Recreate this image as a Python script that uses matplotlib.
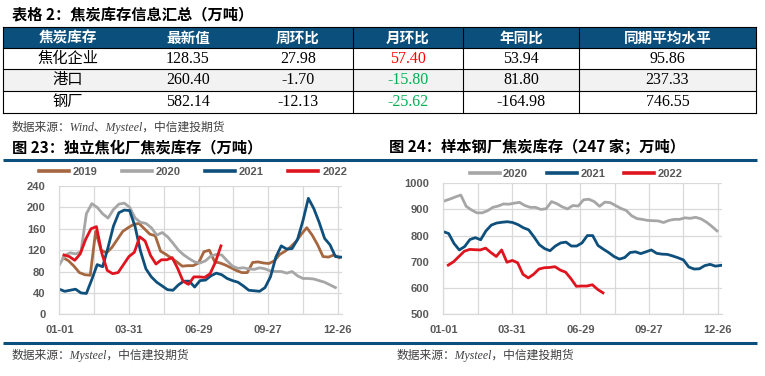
import matplotlib
matplotlib.use('Agg')
import matplotlib.pyplot as plt
from matplotlib.patches import Rectangle
import numpy as np

CJK = 'Noto Sans CJK SC'
plt.rcParams['font.family'] = [CJK, 'DejaVu Sans']

# ---------------- data ----------------
table_title = '表格 2：焦炭库存信息汇总（万吨）'
table_header = ['焦炭库存', '最新值', '周环比', '月环比', '年同比', '同期平均水平']
row_names = ['焦化企业', '港口', '钢厂']
latest = [128.35, 260.40, 582.14]
wow = [27.98, -1.70, -12.13]
mom = [57.40, -15.80, -25.62]
yoy = [53.94, 81.80, -164.98]
avg = [95.86, 237.33, 746.55]
source_top = '数据来源：Wind、Mysteel，中信建投期货'

title1 = '图 23：独立焦化厂焦炭库存（万吨）'
title2 = '图 24：样本钢厂焦炭库存（247 家；万吨）'
source_bottom = '数据来源：Mysteel，中信建投期货'
tick_labels = ['01-01', '03-31', '06-29', '09-27', '12-26']

# Fig 23 weekly values (first-week day of year given separately)
c_2019 = [106, 100, 90, 78, 74, 73, 155, 120, 115, 125, 140, 155, 162, 168, 170,
          160, 150, 147, 118, 112, 105, 98, 90, 91, 91, 96, 117, 120, 98, 96, 92,
          87, 82, 78, 78, 97, 98, 96, 95, 100, 112, 118, 126, 136, 150, 162, 148,
          130, 108, 107, 111, 106]
c_2020 = [92, 110, 115, 113, 117, 188, 207, 200, 188, 180, 196, 206, 208, 200, 180,
          172, 170, 162, 148, 153, 145, 133, 120, 111, 104, 98, 96, 100, 109, 112,
          111, 100, 90, 86, 87, 85, 84, 87, 85, 81, 80, 80, 77, 80, 72, 67, 67, 66,
          63, 60, 55, 50]
c_2021 = [47, 43, 45, 47, 40, 39, 65, 93, 89, 125, 165, 190, 195, 194, 164, 118, 85,
          70, 60, 53, 46, 45, 55, 62, 62, 51, 63, 64, 72, 77, 74, 67, 63, 60, 53, 45,
          44, 43, 50, 70, 107, 128, 122, 123, 140, 175, 217, 198, 172, 142, 130, 108,
          107]
c_2022 = [111, 108, 101, 113, 140, 160, 164, 114, 82, 76, 78, 93, 108, 116, 145, 137,
          110, 94, 102, 102, 106, 86, 62, 56, 70, 70, 69, 76, 98, 128]
start1 = {'2019': 5, '2020': 0, '2021': 0, '2022': 6}

# Fig 24 weekly values
s_2020 = [933, 940, 948, 955, 912, 898, 887, 887, 895, 908, 913, 921, 920, 924, 927,
          915, 908, 908, 900, 903, 930, 922, 910, 902, 915, 913, 937, 939, 930, 912,
          928, 926, 915, 904, 896, 876, 865, 862, 858, 857, 856, 850, 858, 862, 862,
          868, 866, 870, 864, 852, 836, 818]
s_2021 = [815, 808, 770, 745, 758, 785, 792, 784, 818, 840, 848, 851, 853, 850, 842,
          830, 822, 795, 765, 750, 742, 760, 772, 775, 760, 760, 772, 800, 800, 762,
          748, 735, 720, 710, 716, 735, 738, 731, 738, 745, 732, 729, 728, 722, 715,
          707, 680, 672, 673, 685, 690, 683, 686]
s_2022 = [687, 700, 720, 740, 747, 746, 745, 752, 735, 720, 745, 698, 705, 696, 652,
          638, 652, 672, 677, 678, 681, 668, 660, 635, 606, 607, 607, 612, 594, 581]
start2 = {'2020': 2, '2021': 0, '2022': 6.5}

colors = {'2019': '#A5673F', '2020': '#A6A6A6', '2021': '#0E4F7C', '2022': '#E0141E'}

W, H = 765, 376
fig = plt.figure(figsize=(W / 100, H / 100), dpi=100)
bg = fig.add_axes([0, 0, 1, 1], zorder=0)
bg.set_xlim(0, W)
bg.set_ylim(H, 0)
bg.axis('off')

NAVY = '#0B4F7C'
SERIF = ['Liberation Serif', CJK]

# ---------------- table ----------------
bg.text(12, 14, table_title, fontsize=11, fontweight='bold', va='center', ha='left')
col_edges = [3.3, 133, 243, 353, 463, 579, 756]
row_edges = [26.7, 48.3, 69.2, 90.6, 112.7]
bg.add_patch(Rectangle((col_edges[0], row_edges[0]), col_edges[-1] - col_edges[0],
                       row_edges[1] - row_edges[0], color=NAVY, lw=0))
bg.add_patch(Rectangle((col_edges[0], row_edges[2]), col_edges[-1] - col_edges[0],
                       row_edges[3] - row_edges[2], color='#F2F2F2', lw=0))
for y in row_edges:
    bg.plot([col_edges[0], col_edges[-1]], [y, y], color='black', lw=0.8)
for x in [col_edges[0], col_edges[3], col_edges[4], col_edges[5], col_edges[6]]:
    bg.plot([x, x], [row_edges[0], row_edges[-1]], color='black', lw=0.8)
centers = [(col_edges[i] + col_edges[i + 1]) / 2 for i in range(6)]
hy = (row_edges[0] + row_edges[1]) / 2
for cx, h in zip(centers, table_header):
    bg.text(cx, hy, h, color='white', fontsize=10.5, fontweight='bold',
            ha='center', va='center')
cols = [latest, wow, mom, yoy, avg]
for r in range(3):
    ry = (row_edges[r + 1] + row_edges[r + 2]) / 2
    bg.text(centers[0], ry, row_names[r], fontsize=11, ha='center', va='center')
    for c, vals in enumerate(cols):
        v = vals[r]
        col = 'black'
        if c == 2:
            col = '#FF0000' if v > 0 else '#00B050'
        bg.text(centers[c + 1], ry + 0.5, f'{v:.2f}', fontsize=11.5, family=SERIF,
                color=col, ha='center', va='center')
bg.text(12, 127, source_top, fontsize=8.5, style='italic', family=SERIF,
        color='#404040', ha='left', va='center')

# ---------------- chart titles / rules ----------------
bg.text(12, 147, title1, fontsize=11, fontweight='bold', ha='left', va='center')
bg.text(389, 147, title2, fontsize=11, fontweight='bold', ha='left', va='center')
bg.plot([3.3, 757], [159.5, 159.5], color=NAVY, lw=2.2, solid_capstyle='butt')
bg.plot([3.3, 757], [343.3, 343.3], color=NAVY, lw=2.2, solid_capstyle='butt')
bg.text(12, 355.5, source_bottom, fontsize=8.5, style='italic', family=SERIF,
        color='#404040', ha='left', va='center')
bg.text(397, 355.5, source_bottom, fontsize=8.5, style='italic', family=SERIF,
        color='#404040', ha='left', va='center')

TICKFONT = dict(family=['Liberation Sans', 'DejaVu Sans'], weight='bold', size=8)
GRID = '#D9D9D9'


def style_axis(ax, yticks):
    ax.set_xlim(0, 365)
    xt = np.arange(0, 361, 45)
    ax.set_xticks(xt)
    ax.set_xticklabels([tick_labels[i // 2] if i % 2 == 0 else '' for i in range(len(xt))])
    ax.set_yticks(yticks)
    ax.set_ylim(yticks[0], yticks[-1])
    ax.grid(True, color=GRID, lw=0.9)
    ax.set_axisbelow(True)
    for s in ['top', 'right']:
        ax.spines[s].set_visible(False)
    for s in ['left', 'bottom']:
        ax.spines[s].set_color(GRID)
        ax.spines[s].set_linewidth(0.9)
    ax.tick_params(length=0, colors='#595959')
    ax.tick_params(axis='x', pad=8)
    ax.tick_params(axis='y', pad=10)
    for lab in ax.get_xticklabels() + ax.get_yticklabels():
        lab.set_fontfamily(TICKFONT['family'])
        lab.set_fontweight('bold')
        lab.set_fontsize(8)
    ax.patch.set_alpha(0)


def fx(x):
    return x / W


def fy(y):
    return 1 - y / H


# ---------------- Fig 23 ----------------
ax1 = fig.add_axes([fx(59.3), fy(314.3), fx(341.6) - fx(59.3), fy(186) - fy(314.3)], zorder=1)
series1 = {'2019': c_2019, '2020': c_2020, '2021': c_2021, '2022': c_2022}
for k, vals in series1.items():
    d = start1[k] + 7 * np.arange(len(vals))
    ax1.plot(d, vals, color=colors[k], lw=2.0, label=k, solid_joinstyle='round')
style_axis(ax1, np.arange(0, 241, 40))
leg1 = ax1.legend(ncol=4, loc='center', bbox_to_anchor=(fx(193), fy(171.7)),
                  bbox_transform=fig.transFigure, frameon=False, handlelength=2.7,
                  handletextpad=0.35, columnspacing=2.2,
                  prop=dict(family=['Liberation Sans'], weight='bold', size=8))
for t in leg1.get_texts():
    t.set_color('#595959')
for l in leg1.get_lines():
    l.set_linewidth(2.6)

# ---------------- Fig 24 ----------------
ax2 = fig.add_axes([fx(443.3), fy(314), fx(721.5) - fx(443.3), fy(183.3) - fy(314)], zorder=1)
series2 = {'2020': s_2020, '2021': s_2021, '2022': s_2022}
for k, vals in series2.items():
    d = start2[k] + 7 * np.arange(len(vals))
    ax2.plot(d, vals, color=colors[k], lw=2.0, label=k, solid_joinstyle='round')
style_axis(ax2, np.arange(500, 1001, 100))
leg2 = ax2.legend(ncol=3, loc='center', bbox_to_anchor=(fx(576), fy(174.3)),
                  bbox_transform=fig.transFigure, frameon=False, handlelength=2.7,
                  handletextpad=0.3, columnspacing=1.7,
                  prop=dict(family=['Liberation Sans'], weight='bold', size=8))
for t in leg2.get_texts():
    t.set_color('#595959')
for l in leg2.get_lines():
    l.set_linewidth(2.6)

fig.savefig('out.png', dpi=100)
